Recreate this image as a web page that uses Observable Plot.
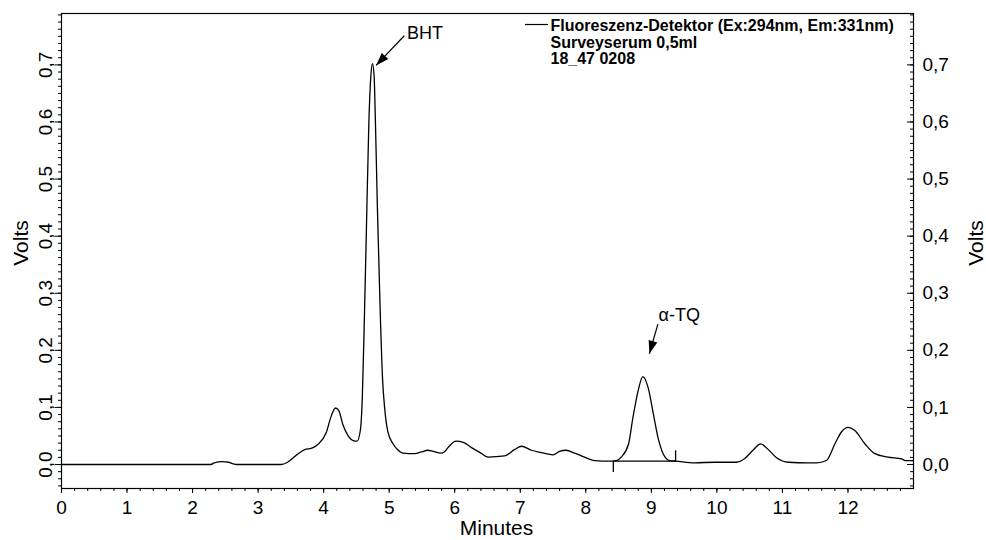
<!DOCTYPE html>
<html>
<head>
<meta charset="utf-8">
<script src="https://cdn.jsdelivr.net/npm/d3@7"></script>
<script src="https://cdn.jsdelivr.net/npm/@observablehq/plot@0.6"></script>
<style>
html, body { margin: 0; padding: 0; background: #fff; }
#chart { width: 986px; height: 540px; }
svg { display: block; }
</style>
</head>
<body>
<div id="chart"></div>
<script>
// ---- Data ----
const minutes = [0, 2.28, 2.33, 2.45, 2.55, 2.62, 2.68, 3.35, 3.45, 3.58, 3.71, 3.83, 3.91, 4.04, 4.11, 4.18, 4.23, 4.29, 4.37, 4.45, 4.51, 4.56, 4.59, 4.62, 4.65, 4.69, 4.72, 4.745, 4.77, 4.79, 4.82, 4.86, 4.90, 4.93, 4.98, 5.06, 5.13, 5.21, 5.39, 5.49, 5.59, 5.67, 5.79, 5.84, 5.90, 6.02, 6.13, 6.25, 6.40, 6.51, 6.76, 6.91, 7.02, 7.17, 7.32, 7.50, 7.60, 7.70, 7.83, 7.98, 8.13, 8.39, 8.47, 8.54, 8.65, 8.72, 8.80, 8.87, 8.95, 9.03, 9.10, 9.18, 9.28, 9.38, 9.66, 9.97, 10.30, 10.42, 10.55, 10.67, 10.75, 10.91, 11.09, 11.39, 11.52, 11.67, 11.80, 11.90, 12.00, 12.10, 12.26, 12.41, 12.61, 12.82, 12.87, 12.97, 13.0];
const volts = [0, 0, 0.003, 0.005, 0.004, 0.001, 0, 0, 0.004, 0.016, 0.026, 0.029, 0.035, 0.056, 0.083, 0.099, 0.095, 0.071, 0.051, 0.042, 0.041, 0.060, 0.118, 0.25, 0.40, 0.60, 0.68, 0.702, 0.68, 0.60, 0.45, 0.28, 0.147, 0.10, 0.057, 0.036, 0.026, 0.020, 0.019, 0.022, 0.025, 0.023, 0.020, 0.022, 0.030, 0.041, 0.039, 0.030, 0.020, 0.013, 0.015, 0.026, 0.032, 0.025, 0.021, 0.017, 0.023, 0.025, 0.020, 0.013, 0.007, 0.006, 0.007, 0.013, 0.035, 0.083, 0.130, 0.154, 0.135, 0.089, 0.048, 0.019, 0.007, 0.006, 0.003, 0.004, 0.004, 0.010, 0.025, 0.036, 0.030, 0.012, 0.004, 0.003, 0.003, 0.007, 0.036, 0.057, 0.065, 0.060, 0.036, 0.019, 0.013, 0.010, 0.007, 0.007, 0.007];

const xMajorTicks = [0, 1, 2, 3, 4, 5, 6, 7, 8, 9, 10, 11, 12];
const xTickLabels = ["0", "1", "2", "3", "4", "5", "6", "7", "8", "9", "10", "11", "12"];
const yMajorTicks = [0, 0.1, 0.2, 0.3, 0.4, 0.5, 0.6, 0.7];
const yTickLabels = ["0,0", "0,1", "0,2", "0,3", "0,4", "0,5", "0,6", "0,7"];

const legendLines = ["Fluoreszenz-Detektor (Ex:294nm, Em:331nm)", "Surveyserum 0,5ml", "18_47 0208"];

// peak annotations
const peakNames = ["BHT", "α-TQ"];
const arrowTipX = [4.80, 8.97];
const arrowTipY = [0.699, 0.194];
const arrowTailX = [5.23, 9.10];
const arrowTailY = [0.751, 0.246];
const labelX = [5.27, 9.11];
const labelY = [0.755, 0.261];

// integration baseline of the α-TQ peak
const baseStartX = 8.42;
const baseEndX = 9.37;
const baseY = 0.006;
const markerX = [8.42, 9.37];
const markerY1 = [-0.014, 0.004];
const markerY2 = [0.006, 0.024];

// ---- Build ----
const W = 986, H = 540;
const mL = 61, mR = 73, mT = 13, mB = 52;
const frameW = W - mL - mR, frameH = H - mT - mB;
const xDomain = [0, 13], yDomain = [-0.042, 0.79];
const sx = d3.scaleLinear(xDomain, [mL, W - mR]);
const sy = d3.scaleLinear(yDomain, [H - mB, mT]);

const trace = minutes.map((m, i) => ({m, v: volts[i]}));
const xMinor = d3.range(0, 65).map(i => +(i * 0.2).toFixed(2)).filter(v => v <= 12.9);
const yMinor = d3.range(-3, 64).map(i => +(i * 0.0125).toFixed(4)).filter(v => v >= yDomain[0] && v <= yDomain[1]);

const ann = peakNames.map((name, i) => {
  const dxp = sx(arrowTipX[i]) - sx(arrowTailX[i]);
  const dyp = sy(arrowTipY[i]) - sy(arrowTailY[i]);
  return {
    name, tipX: arrowTipX[i], tipY: arrowTipY[i], tailX: arrowTailX[i], tailY: arrowTailY[i],
    lx: labelX[i], ly: labelY[i],
    angle: Math.atan2(dxp, -dyp) * 180 / Math.PI
  };
});

const arrowHead = {
  draw(ctx) {
    ctx.moveTo(0, 0);
    ctx.lineTo(-4.5, 13);
    ctx.lineTo(4.5, 13);
    ctx.closePath();
  }
};

const markers = markerX.map((x, i) => ({x, y1: markerY1[i], y2: markerY2[i]}));
const font = "'Liberation Sans', Arial, Helvetica, sans-serif";
const tickFont = 19;

const plot = Plot.plot({
  width: W, height: H,
  marginLeft: mL, marginRight: mR, marginTop: mT, marginBottom: mB,
  x: {domain: xDomain, axis: null},
  y: {domain: yDomain, axis: null},
  style: {fontFamily: font, fontSize: "18px", color: "black", background: "white"},
  marks: [
    // ticks bottom
    Plot.tickX(xMinor, {x: d => d, insetTop: frameH, insetBottom: -3, stroke: "black"}),
    Plot.tickX(xMajorTicks, {x: d => d, insetTop: frameH, insetBottom: -5, stroke: "black"}),
    // ticks left (outward)
    Plot.tickY(yMinor, {y: d => d, insetLeft: -3, insetRight: frameW, stroke: "black"}),
    Plot.tickY(yMajorTicks, {y: d => d, insetLeft: -6, insetRight: frameW, stroke: "black"}),
    // ticks right (inward)
    Plot.tickY(yMinor, {y: d => d, insetLeft: frameW - 3, stroke: "black"}),
    Plot.tickY(yMajorTicks, {y: d => d, insetLeft: frameW - 6, stroke: "black"}),
    // tick labels
    Plot.text(xMajorTicks, {x: d => d, text: (d, i) => xTickLabels[i], frameAnchor: "bottom", dy: 19, lineAnchor: "middle", fontSize: tickFont, fill: "black"}),
    Plot.text(yMajorTicks, {y: d => d, text: (d, i) => yTickLabels[i], frameAnchor: "left", dx: -16, rotate: -90, lineAnchor: "middle", textAnchor: "middle", fontSize: tickFont, fill: "black"}),
    Plot.text(yMajorTicks, {y: d => d, text: (d, i) => yTickLabels[i], frameAnchor: "right", dx: 9, textAnchor: "start", lineAnchor: "middle", fontSize: tickFont, fill: "black"}),
    // axis titles
    Plot.text(["Minutes"], {frameAnchor: "bottom", dx: 9, dy: 40, textAnchor: "middle", lineAnchor: "middle", fontSize: 21, fill: "black"}),
    Plot.text(["Volts"], {frameAnchor: "left", dx: -40, dy: -8, rotate: -90, textAnchor: "middle", lineAnchor: "middle", fontSize: 21, fill: "black"}),
    Plot.text(["Volts"], {frameAnchor: "right", dx: 63, dy: -8, rotate: -90, textAnchor: "middle", lineAnchor: "middle", fontSize: 21, fill: "black"}),
    // trace
    Plot.line(trace, {x: "m", y: "v", stroke: "black", strokeWidth: 1.3, curve: "monotone-x"}),
    // integration baseline
    Plot.link([{x1: baseStartX, x2: baseEndX, y: baseY}], {x1: "x1", x2: "x2", y1: "y", y2: "y", stroke: "black", strokeWidth: 1.3}),
    Plot.ruleX(markers, {x: "x", y1: "y1", y2: "y2", stroke: "black", strokeWidth: 1.3}),
    // annotations
    Plot.link(ann, {x1: "tailX", y1: "tailY", x2: "tipX", y2: "tipY", stroke: "black", strokeWidth: 1.2}),
    Plot.dot(ann, {x: "tipX", y: "tipY", symbol: arrowHead, rotate: "angle", fill: "black", stroke: "none", r: 5}),
    Plot.text(ann, {x: "lx", y: "ly", text: "name", textAnchor: "start", lineAnchor: "middle", fontSize: 18, fill: "black"}),
    // legend
    Plot.text([legendLines.join("\n")], {frameAnchor: "top-left", dx: 550 - mL, dy: 5, textAnchor: "start", lineAnchor: "top", lineHeight: 1.06, fontSize: 16, fontWeight: "bold", fill: "black"}),
    Plot.frame({stroke: "black", strokeWidth: 1.2})
  ]
});

document.getElementById("chart").appendChild(plot);

// legend swatch line
d3.select(plot).append("line")
  .attr("x1", 525).attr("x2", 548).attr("y1", 24.5).attr("y2", 24.5)
  .attr("stroke", "black").attr("stroke-width", 1.2);
</script>
</body>
</html>
